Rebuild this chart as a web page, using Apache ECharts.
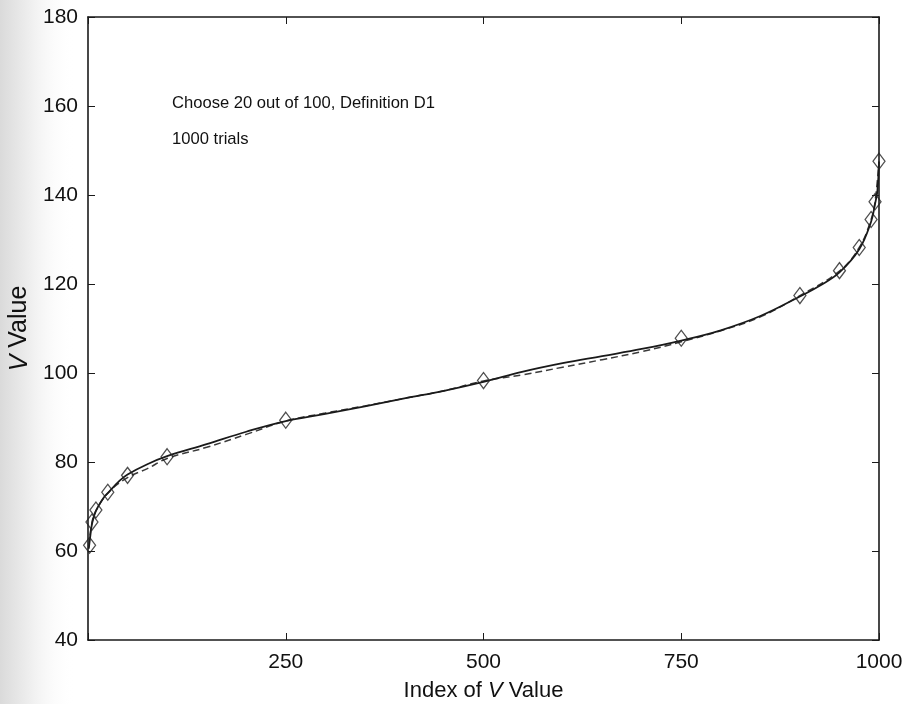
<!DOCTYPE html>
<html>
<head>
<meta charset="utf-8">
<script src="https://cdn.jsdelivr.net/npm/echarts@6/dist/echarts.min.js"></script>
<style>
  html, body { margin: 0; padding: 0; background: #fff; }
  #chart { width: 907px; height: 704px; }
</style>
</head>
<body>
<div id="chart"></div>
<script>
// Sorted V values (index 1..1000) from the simulation run
const solidIdx = [1, 3, 5, 10, 20, 25, 40, 50, 75, 100, 150, 200, 250, 300, 350, 400, 450, 500,
  550, 600, 650, 700, 750, 800, 850, 900, 925, 950, 975, 990, 995, 998, 1000];
const solidV = [60.5, 63.5, 66, 69, 72, 73, 75.8, 77.2, 79.5, 81.3, 84, 86.8, 89.2, 90.8, 92.5, 94.3, 96, 98,
  100.3, 102.2, 103.8, 105.4, 107.3, 109.6, 112.8, 117.2, 119.6, 122.6, 127.8, 134, 138, 141, 147.5];

// Reference curve (dashed)
const dashIdx = [1, 5, 10, 25, 50, 75, 100, 150, 200, 250, 300, 350, 400, 450, 500, 550, 600, 650,
  700, 750, 800, 850, 900, 950, 975, 990, 995, 1000];
const dashV = [61, 66.4, 69, 73, 76.5, 78.5, 80.8, 83.3, 86.2, 89.2, 91, 92.6, 94.3, 96, 98.2, 99.6, 101.3, 103,
  104.8, 107, 109.5, 112.6, 117.4, 122.9, 128.2, 134.5, 138.5, 147.6];

// Marked quantile points
const markIdx = [2, 5, 10, 25, 50, 100, 250, 500, 750, 900, 950, 975, 990, 995, 1000];
const markV = [61.3, 66.5, 69.2, 73.2, 77, 81.2, 89.4, 98.3, 107.8, 117.4, 123, 128.2, 134.5, 138.5, 147.6];

const xTicks = [0, 250, 500, 750, 1000];
const yTicks = [40, 60, 80, 100, 120, 140, 160, 180];

const annotation1 = 'Choose 20 out of 100, Definition D1';
const annotation2 = '1000 trials';

const zip = (a, b) => a.map((v, i) => [v, b[i]]);

const chart = echarts.init(document.getElementById('chart'));
const axisColor = '#1a1a1a';
const textColor = '#111';
const fontFam = '"Liberation Sans", Arial, sans-serif';

const baseX = {
  type: 'value', min: xTicks[0], max: xTicks[xTicks.length - 1], interval: 250,
  axisLine: { show: true, onZero: false, lineStyle: { color: axisColor, width: 1.6 } },
  axisTick: { show: true, inside: true, length: 7, lineStyle: { color: axisColor, width: 1 } },
  splitLine: { show: false }
};
const baseY = {
  type: 'value', min: yTicks[0], max: yTicks[yTicks.length - 1], interval: 20,
  axisLine: { show: true, onZero: false, lineStyle: { color: axisColor, width: 1.6 } },
  axisTick: { show: true, inside: true, length: 7, lineStyle: { color: axisColor, width: 1 } },
  splitLine: { show: false }
};

const nameRich = size => ({
  n: { fontSize: size, color: textColor, fontFamily: fontFam },
  i: { fontSize: size, color: textColor, fontFamily: fontFam, fontStyle: 'italic' }
});

chart.setOption({
  backgroundColor: '#ffffff',
  animation: false,
  graphic: [
    {
      type: 'rect', z: -10, silent: true,
      shape: { x: 0, y: 0, width: 75, height: 704 },
      style: {
        fill: new echarts.graphic.LinearGradient(0, 0, 1, 0, [
          { offset: 0, color: '#dadada' },
          { offset: 0.45, color: '#f1f1f1' },
          { offset: 1, color: 'rgba(255,255,255,0)' }
        ])
      }
    },
    {
      type: 'text', left: 172, top: 95,
      style: { text: annotation1, font: '16.6px ' + fontFam, fill: textColor }
    },
    {
      type: 'text', left: 172, top: 131,
      style: { text: annotation2, font: '16.6px ' + fontFam, fill: textColor }
    }
  ],
  grid: { left: 88, right: 28, top: 17, bottom: 64, containLabel: false, outerBoundsMode: 'none' },
  xAxis: [
    Object.assign({}, baseX, {
      position: 'bottom',
      name: '{n|Index of }{i|V}{n| Value}',
      nameLocation: 'middle', nameGap: 40,
      nameTextStyle: { rich: nameRich(22) },
      axisLabel: {
        color: textColor, fontSize: 21, fontFamily: fontFam, margin: 12,
        formatter: v => (v === 0 ? '' : String(v))
      }
    }),
    Object.assign({}, baseX, { position: 'top', axisLabel: { show: false } })
  ],
  yAxis: [
    Object.assign({}, baseY, {
      position: 'left',
      name: '{i|V}{n| Value}',
      nameLocation: 'middle', nameGap: 55, nameRotate: 90,
      nameTextStyle: { rich: nameRich(25) },
      axisLabel: { color: textColor, fontSize: 21, fontFamily: fontFam, margin: 10 }
    }),
    Object.assign({}, baseY, { position: 'right', axisLabel: { show: false } })
  ],
  series: [
    {
      type: 'line', xAxisIndex: 0, yAxisIndex: 0,
      data: zip(dashIdx, dashV), smooth: 0.4, showSymbol: false,
      lineStyle: { color: '#3a3a3a', width: 1.5, type: [7, 4] }, z: 2
    },
    {
      type: 'line', xAxisIndex: 0, yAxisIndex: 0,
      data: zip(solidIdx, solidV), smooth: 0.4, showSymbol: false,
      lineStyle: { color: '#1a1a1a', width: 1.8 }, z: 3
    },
    {
      type: 'scatter', xAxisIndex: 0, yAxisIndex: 0,
      data: zip(markIdx, markV), symbol: 'diamond', symbolSize: [12, 16],
      itemStyle: { color: 'rgba(255,255,255,0)', borderColor: '#222', borderWidth: 1.3 }, z: 4
    }
  ]
});
</script>
</body>
</html>
